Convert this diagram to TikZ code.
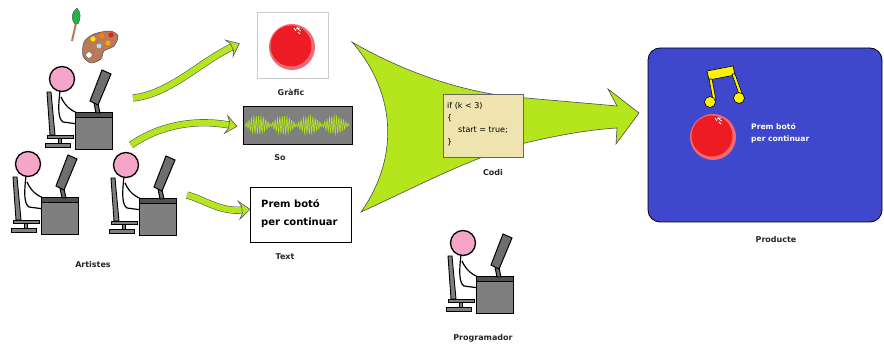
\documentclass[tikz,border=0pt]{standalone}
\usepackage{fontspec}
\setmainfont{DejaVu Sans}
\usetikzlibrary{decorations.markings}

\definecolor{leafgreen}{HTML}{B5E61D}
\definecolor{skin}{HTML}{F5A6C8}
\definecolor{deskgray}{HTML}{7F7F7F}
\definecolor{deskdark}{HTML}{505050}
\definecolor{screengray}{HTML}{6E6E6E}
\definecolor{ballred}{HTML}{ED1C24}
\definecolor{ballpink}{HTML}{EF6B74}
\definecolor{prodblue}{HTML}{3F48CC}
\definecolor{noteyellow}{HTML}{FFF200}
\definecolor{codebeige}{HTML}{EFE4B0}
\definecolor{paintbrown}{HTML}{B97A57}
\definecolor{brushgreen}{HTML}{22B14C}

\tikzset{
  caption/.style={font=\fontsize{8}{9}\selectfont\bfseries, text=black!85},
  flow/.style={line width=6pt, draw=leafgreen,
    preaction={draw=black!65, line width=7.2pt},
    postaction={decorate, decoration={markings, mark=at position 1 with {
      \filldraw[fill=leafgreen, draw=black!65, line width=.6pt]
        (-3,-9) -- (8,0) -- (-3,9) -- (0,3.6) -- (0,-3.6) -- cycle;}}}},
  % person at a desk, origin at the head
  worker/.pic={
    \begin{scope}[line width=.9pt]
      \filldraw[fill=deskgray] (-15,13) -- (-11,13) -- (-7,56) -- (-12,56) -- cycle;
      \filldraw[fill=deskgray] (-15,56) rectangle (11,59);
      \filldraw[fill=deskgray] (-4,59) rectangle (-1,64);
      \filldraw[fill=deskgray] (-17,64) rectangle (8,68);
    \end{scope}
    \draw[line width=1.2pt] (-2,12) .. controls (-4,28) and (-4,40) .. (1,43) -- (16,45);
    \draw[line width=1.2pt] (-1,18) .. controls (3,27) and (9,32) .. (18,35);
    \filldraw[fill=skin, line width=1.3pt] (0,0) circle (12.5);
    \filldraw[fill=deskgray, line width=1pt] (13,34) rectangle (50,71);
    \filldraw[fill=deskdark, line width=1pt] (13,34) rectangle (50,39);
    \filldraw[fill=screengray, line width=1pt] (32,24) -- (36,25) -- (38,34) -- (34,34) -- cycle;
    \filldraw[fill=screengray, line width=1pt] (40,-9) -- (49,-5) -- (36,26) -- (28,22) -- cycle;
  },
  % red push button
  button/.pic={
    \fill[ballpink] (1,1) circle (23);
    \fill[ballred] (0,0) circle (20.5);
    \draw[white, line width=.8pt] (3,-18) -- (5,-15) (6,-19) -- (8,-16) -- (10,-15)
      (5,-17) -- (9,-18) (7,-14) -- (9,-12);
  }
}

\begin{document}
\begin{tikzpicture}[x=1pt, y=-1pt]
  \useasboundingbox (0,0) rectangle (884,347);
  \fill[white] (0,0) rectangle (884,347);

  % artists
  \pic (artA) at (62,79) {worker};
  \pic (artB) at (28,164) {worker};
  \pic (artC) at (126,165) {worker};
  \node[caption] (artistes) at (93,265) {Artistes};

  % brush and palette
  \draw[paintbrown, line width=2pt] (76,23) -- (72,41);
  \filldraw[fill=brushgreen, draw=black!70, line width=.4pt]
    (75,24) .. controls (70,18) and (72,12) .. (77,8) .. controls (81,12) and (81,19) .. (78,24) -- cycle;
  \filldraw[fill=paintbrown, draw=black!70, line width=.5pt] plot[smooth cycle] coordinates
    {(84,42) (94,34) (110,31) (118,36) (114,46) (104,51) (101,59) (91,63) (83,56)};
  \fill[yellow!90!orange] (93,39) circle (2.6);
  \fill[orange] (102,36) circle (2.4);
  \fill[ballred] (111,35) circle (2.6);
  \fill[cyan!35] (99,46) circle (2.4);
  \fill[orange!70!yellow] (108,43) circle (2.5);
  \filldraw[fill=white, draw=black!70, line width=.4pt] (89,55) circle (3.3);

  % assets
  \node[draw=black!20, fill=white, minimum width=71, minimum height=66, inner sep=0] (grafic) at (292.5,45) {};
  \pic at (291,46) {button};
  \node[caption] (lblGrafic) at (291,92) {Gràfic};

  \node[draw=black, fill=deskgray, minimum width=109, minimum height=38, line width=.8pt, inner sep=0] (so) at (297.5,125) {};
  \draw[leafgreen, line width=.6pt] plot[domain=0:260, samples=261]
    ({245+0.4*\x}, {125 + (1+8*abs(sin(2.8*\x)))*sin(61*\x)});
  \node[caption] (lblSo) at (280,158) {So};

  \node[draw=black, fill=white, minimum width=101, minimum height=55, line width=.8pt, inner sep=0] (text) at (300.5,214.5) {};
  \node[anchor=west, align=left, inner sep=0, font=\fontsize{10}{18}\selectfont\bfseries] (textmsg) at (261,214) {Prem botó\\per continuar};
  \node[caption] (lblText) at (285,257) {Text};

  % artists to assets
  \coordinate (a1s) at (133,98);
  \coordinate (a1e) at (232,47);
  \coordinate (a2s) at (131,145);
  \coordinate (a2e) at (229,125);
  \coordinate (a3s) at (187,195);
  \coordinate (a3e) at (242,210);
  \draw[flow] (a1s) .. controls (170,94) and (200,62) .. (a1e);
  \draw[flow] (a2s) .. controls (160,125) and (195,119) .. (a2e);
  \draw[flow] (a3s) .. controls (205,200) and (220,212) .. (a3e);

  % everything flows into the code
  \filldraw[fill=leafgreen, draw=black!70, line width=.6pt]
    (352,42) .. controls (400,70) and (460,92) .. (515,97)
    .. controls (560,101) and (595,104) .. (617,106)
    -- (608,89) -- (639,113) -- (616,144) -- (617,128)
    .. controls (585,130) and (555,136) .. (525,143)
    .. controls (470,158) and (420,185) .. (361,212)
    .. controls (398,160) and (398,95) .. (352,42) -- cycle;

  \node[draw=black!60, fill=codebeige, minimum width=80, minimum height=63, line width=.7pt, inner sep=0] (codi) at (483,125.5) {};
  \node[anchor=north west, align=left, inner sep=0, font=\fontsize{8}{12}\selectfont] (codetext) at (447,102.5)
    {if (k < 3)\\\{\\\hspace{11pt}start = true;\\\}};
  \node[caption] (lblCodi) at (493,173) {Codi};

  % programmer
  \pic (prog) at (463,243) {worker};
  \node[caption] (lblProg) at (483,338) {Programador};

  % product screen
  \node[draw=black, fill=prodblue, rounded corners=12, minimum width=234, minimum height=174, line width=.8pt, inner sep=0] (prod) at (765,135) {};
  \filldraw[fill=noteyellow, draw=black, line width=.6pt]
    (707,71) -- (733,66) -- (735,75) -- (709,80) -- cycle;
  \filldraw[fill=noteyellow, draw=black, line width=.6pt]
    (709,79) -- (712,79) -- (716,100) -- (713,100) -- cycle;
  \filldraw[fill=noteyellow, draw=black, line width=.6pt]
    (732,74) -- (735,74) -- (743,96) -- (740,97) -- cycle;
  \filldraw[fill=noteyellow, draw=black, line width=.6pt] (710,102) circle (5.5);
  \filldraw[fill=noteyellow, draw=black, line width=.6pt] (739,98) circle (5.5);
  \pic at (712,136) {button};
  \node[anchor=west, align=left, inner sep=0, text=white, font=\fontsize{7.6}{12}\selectfont\bfseries] (prodmsg) at (751,133) {Prem botó\\per continuar};
  \node[caption] (lblProd) at (776,240) {Producte};
\end{tikzpicture}
\end{document}
